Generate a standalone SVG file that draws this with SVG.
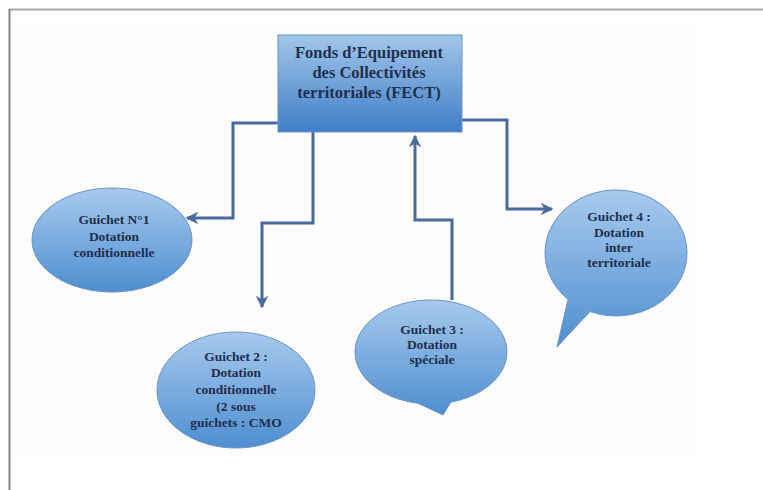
<svg xmlns="http://www.w3.org/2000/svg" width="763" height="490" viewBox="0 0 763 490">
  <defs>
    <linearGradient id="gRect" x1="0" y1="0" x2="0" y2="1">
      <stop offset="0" stop-color="#a3c6ea"/>
      <stop offset="1" stop-color="#3f7ec6"/>
    </linearGradient>
    <linearGradient id="gNode" x1="0" y1="0" x2="0" y2="1">
      <stop offset="0" stop-color="#a8caed"/>
      <stop offset="1" stop-color="#4e8ed0"/>
    </linearGradient>
    <marker id="arr" viewBox="0 0 10 10" refX="9" refY="5" markerWidth="4.2" markerHeight="4.2" orient="auto" markerUnits="strokeWidth">
      <path d="M0,0 L10,5 L0,10 L3,5 Z" fill="#4a6b9e"/>
    </marker>
    <style>
      .node { fill: url(#gNode); stroke: #6a92c6; stroke-width: 1; }
      .box { fill: url(#gRect); stroke: #6a92c6; stroke-width: 1; }
      .lbl { font-family: "Liberation Serif", "DejaVu Serif", serif; font-weight: bold; fill: #1f2f4d; text-anchor: middle; }
      .t15 { font-size: 16.5px; }
      .t13 { font-size: 13.5px; }
      .conn { fill: none; stroke: #4a6b9e; stroke-width: 3; marker-end: url(#arr); }
    </style>
  </defs>

  <rect x="0" y="0" width="763" height="490" fill="#ffffff"/>
  <rect x="16" y="26" width="682" height="432" fill="#fdfdfd"/>
  <line x1="9" y1="9.5" x2="763" y2="9.5" stroke="#a8a8a8" stroke-width="2"/>
  <line x1="9.5" y1="9" x2="9.5" y2="490" stroke="#858585" stroke-width="2"/>

  <g id="connectors">
    <path class="conn" d="M278,123 H233 V218 H187"/>
    <path class="conn" d="M313,132 V223 H262 V307"/>
    <path class="conn" d="M452,300 V220 H415 V136"/>
    <path class="conn" d="M462,120 H507 V209 H552"/>
  </g>

  <g id="fect">
    <rect class="box" x="278" y="35" width="184" height="97"/>
    <text class="lbl t15" x="369" y="58">Fonds d’Equipement</text>
    <text class="lbl t15" x="369" y="78">des Collectivités</text>
    <text class="lbl t15" x="369" y="98">territoriales (FECT)</text>
  </g>

  <g id="guichet1">
    <ellipse class="node" cx="112" cy="240" rx="80" ry="52"/>
    <text class="lbl t13" x="114" y="224">Guichet N°1</text>
    <text class="lbl t13" x="114" y="241">Dotation</text>
    <text class="lbl t13" x="114" y="257">conditionnelle</text>
  </g>

  <g id="guichet2">
    <ellipse class="node" cx="236" cy="390" rx="79" ry="58"/>
    <text class="lbl t13" x="236" y="361">Guichet 2 :</text>
    <text class="lbl t13" x="236" y="377">Dotation</text>
    <text class="lbl t13" x="236" y="394">conditionnelle</text>
    <text class="lbl t13" x="236" y="411">(2 sous</text>
    <text class="lbl t13" x="236" y="427">guichets : CMO</text>
  </g>

  <g id="guichet3">
    <path class="node" d="M417.8,403.2 L443,415 L450.7,402.2 A76,52 0 1 0 417.8,403.2 Z"/>
    <text class="lbl t13" x="432" y="334">Guichet 3 :</text>
    <text class="lbl t13" x="432" y="349">Dotation</text>
    <text class="lbl t13" x="432" y="364">spéciale</text>
  </g>

  <g id="guichet4">
    <path class="node" d="M590,311.6 L557,347 L568,299.4 A71,63 0 1 1 590,311.6 Z"/>
    <text class="lbl t13" x="619" y="221">Guichet 4 :</text>
    <text class="lbl t13" x="619" y="237">Dotation</text>
    <text class="lbl t13" x="619" y="252">inter</text>
    <text class="lbl t13" x="619" y="267">territoriale</text>
  </g>
</svg>
